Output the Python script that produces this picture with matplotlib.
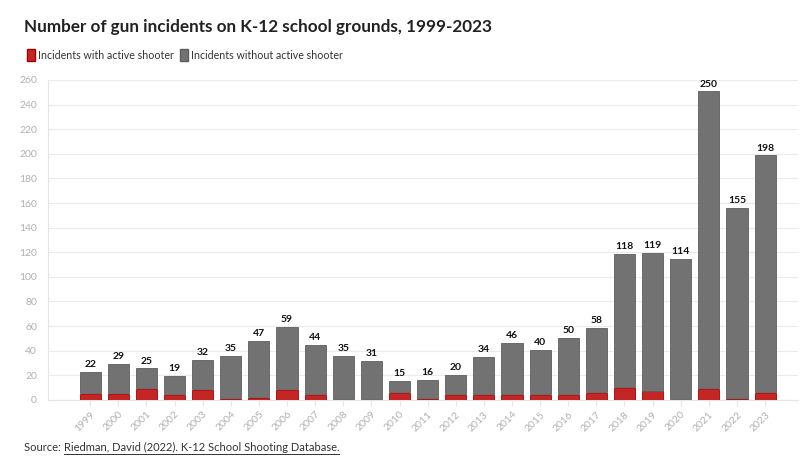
import numpy as np
import matplotlib.pyplot as plt
from matplotlib.patches import Patch

# data
years = list(range(1999, 2024))
totals = [22, 29, 25, 19, 32, 35, 47, 59, 44, 35, 31, 15, 16, 20, 34,
          46, 40, 50, 58, 118, 119, 114, 250, 155, 198]
active = [5, 5, 9, 4, 8, 1, 2, 8, 4, 0, 0, 6, 1, 4, 4,
          4, 4, 4, 6, 10, 7, 0, 9, 1, 6]
without = [t - a for t, a in zip(totals, active)]

RED = '#c42626'
GREY = '#727272'

plt.rcParams['font.family'] = ['Lato', 'DejaVu Sans']

fig = plt.figure(figsize=(8, 4.7), dpi=100)
ax = fig.add_axes([0.06, 0.149, 0.9375, 0.681])

x = np.arange(len(years))
w = 0.75
ax.bar(x, active, width=w, color=RED, edgecolor='#a80000', linewidth=0.6, zorder=3)
ax.bar(x, without, width=w, bottom=np.array(active) + 0.6, color=GREY,
       edgecolor='#5e5e5e', linewidth=0.6, zorder=3)

for xi, t in zip(x, totals):
    ax.text(xi, t + 3, str(t), ha='center', va='bottom', fontsize=7.5,
            fontweight='bold', color='#111111')

ax.set_xlim(-1.5, len(years) - 1 + 1.17)
ax.set_ylim(0, 260)
ax.set_yticks(range(0, 261, 20))
ax.set_xticks(x)
ax.set_xticklabels([str(y) for y in years], rotation=45, ha='right',
                   rotation_mode='anchor', fontsize=7.5, color='#b0b0b0')
ax.tick_params(axis='y', labelsize=7.5, labelcolor='#b0b0b0', length=0, pad=8)
ax.tick_params(axis='x', length=4, color='#e6e6e6', pad=3)
ax.grid(axis='y', color='#ebebeb', linewidth=0.8, zorder=0)
for s in ['top', 'right']:
    ax.spines[s].set_visible(False)
ax.spines['left'].set_color('#e6e6e6')
ax.spines['bottom'].set_color('#e6e6e6')

fig.text(0.03, 0.943, 'Number of gun incidents on K-12 school grounds, 1999-2023',
         fontsize=12.3, fontweight='bold', color='#222222', va='center')

handles = [Patch(facecolor=RED, edgecolor='#a80000'),
           Patch(facecolor=GREY, edgecolor='#5e5e5e')]
fig.legend(handles, ['Incidents with active shooter', 'Incidents without active shooter'],
           loc='center left', bbox_to_anchor=(0.022, 0.882), ncol=2, frameon=False,
           fontsize=7.7, handlelength=0.7, handleheight=1.35, handletextpad=0.3,
           columnspacing=0.6, labelcolor='#333333')

# source line with underlined link text
src = fig.text(0.03, 0.04, 'Source: ', fontsize=8, color='#333333', va='baseline')
link = ax.annotate('Riedman, David (2022). K-12 School Shooting Database.',
                   xy=(1, 0), xycoords=src, va='bottom', ha='left',
                   fontsize=8, color='#333333', annotation_clip=False)
fig.canvas.draw()
r = fig.canvas.get_renderer()
bb = link.get_window_extent(r).transformed(fig.transFigure.inverted())
fig.add_artist(plt.Line2D([bb.x0, bb.x1], [0.033, 0.033], color='#333333',
                          linewidth=0.7, transform=fig.transFigure))

fig.savefig('out.png', dpi=100)
